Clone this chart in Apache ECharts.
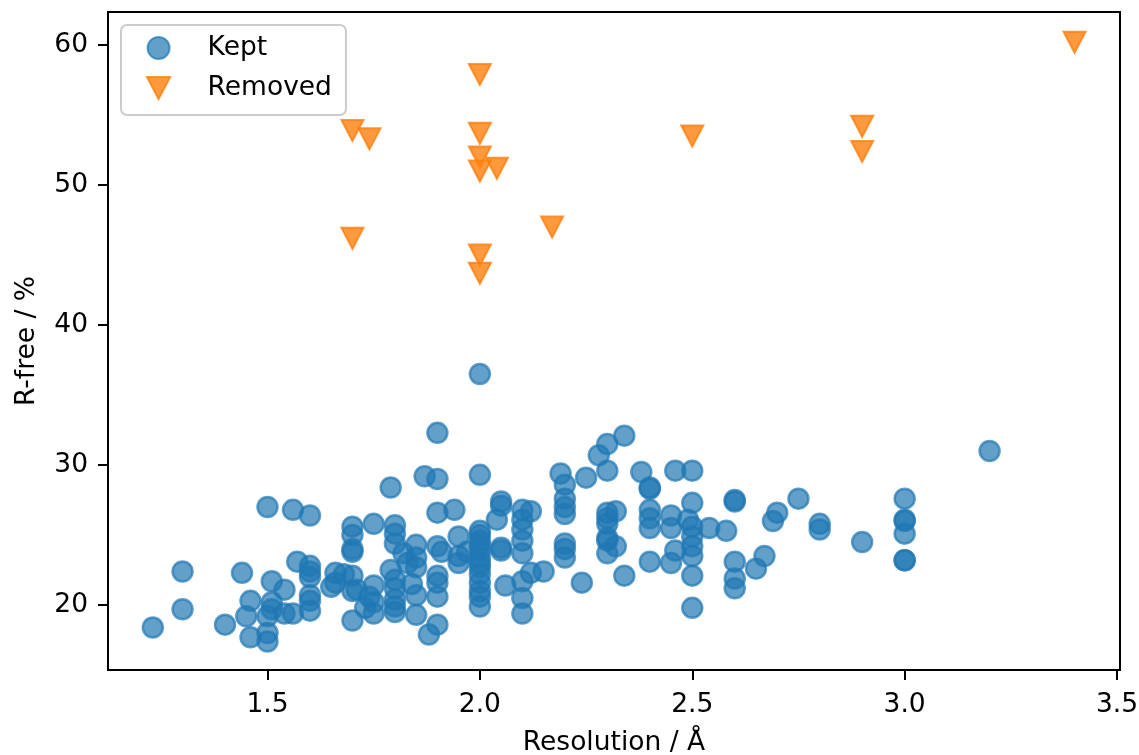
<!DOCTYPE html>
<html>
<head>
<meta charset="utf-8">
<script src="https://cdn.jsdelivr.net/npm/echarts@6/dist/echarts.min.js"></script>
<style>
html,body{margin:0;padding:0;background:#fff;}
#chart{width:1139px;height:755px;}
</style>
</head>
<body>
<div id="chart"></div>
<script>
// ---- data ----
var keptRes = [
1.23,1.30,1.30,1.40,1.44,1.45,1.46,1.46,1.50,1.50,1.50,1.50,1.51,1.51,1.51,1.54,1.54,1.56,1.56,1.57,
1.60,1.60,1.60,1.60,1.60,1.60,1.60,1.65,1.66,1.66,1.68,1.70,1.70,1.70,1.70,1.70,1.70,1.70,1.71,1.73,
1.74,1.75,1.75,1.75,1.75,1.79,1.79,1.80,1.80,1.80,1.80,1.80,1.80,1.80,1.80,1.82,1.83,1.84,1.85,1.85,
1.85,1.85,1.85,1.87,1.88,1.90,1.90,1.90,1.90,1.90,1.90,1.90,1.90,1.91,1.94,1.95,1.95,1.95,1.97,2.00,
2.00,2.00,2.00,2.00,2.00,2.00,2.00,2.00,2.00,2.00,2.00,2.00,2.00,2.00,2.04,2.05,2.05,2.05,2.05,2.06,
2.10,2.10,2.10,2.10,2.10,2.10,2.10,2.10,2.12,2.12,2.15,2.19,2.20,2.20,2.20,2.20,2.20,2.20,2.20,2.24,
2.25,2.28,2.30,2.30,2.30,2.30,2.30,2.30,2.30,2.30,2.32,2.32,2.34,2.34,2.38,2.40,2.40,2.40,2.40,2.40,
2.40,2.45,2.45,2.45,2.46,2.46,2.49,2.50,2.50,2.50,2.50,2.50,2.50,2.50,2.50,2.54,2.58,2.60,2.60,2.60,
2.60,2.60,2.65,2.67,2.69,2.70,2.75,2.80,2.80,2.90,3.00,3.00,3.00,3.00,3.00,3.00,3.20
];
var keptRfree = [
18.4,22.4,19.7,18.6,22.3,19.2,20.3,17.7,27.0,19.2,18.0,17.4,21.7,20.2,19.7,21.1,19.4,19.4,26.8,23.1,
26.4,22.8,22.4,22.0,20.7,20.3,19.6,21.3,22.3,21.6,22.2,25.6,25.0,24.0,23.8,22.1,21.0,18.9,21.1,19.8,
20.6,25.8,21.4,20.2,19.4,28.4,22.5,25.7,25.1,24.4,21.8,21.2,20.4,19.9,19.5,23.7,23.0,21.5,24.3,23.4,
22.7,20.7,19.3,29.2,17.9,32.3,29.0,26.6,24.2,22.1,21.6,20.6,18.6,23.8,26.8,24.9,23.5,23.0,23.8,36.5,
29.3,25.3,25.0,24.6,24.3,23.9,23.4,23.0,22.7,22.2,21.6,21.0,20.6,19.9,26.1,27.4,27.1,24.1,23.9,21.4,
26.8,26.1,25.4,24.6,23.7,21.7,20.5,19.4,26.7,22.3,22.4,29.4,28.6,27.6,27.0,26.5,24.4,24.0,23.4,21.6,
29.1,30.7,31.5,29.6,26.6,26.2,25.8,24.8,24.6,23.7,26.7,24.2,32.1,22.1,29.5,28.4,28.3,26.8,26.2,25.5,
23.1,26.4,25.5,23.0,29.6,23.9,26.1,29.6,27.3,25.6,24.9,24.2,23.5,22.1,19.8,25.5,25.3,27.5,27.4,23.1,
21.9,21.2,22.6,23.5,26.0,26.6,27.6,25.8,25.4,24.5,27.6,26.1,26.0,25.1,23.2,23.2,31.0
];
var removedRes = [1.70,1.74,1.70,2.00,2.00,2.00,2.00,2.04,2.00,2.00,2.17,2.50,2.90,2.90,3.40];
var removedRfree = [53.9,53.3,46.2,57.9,53.7,52.0,51.0,51.2,45.0,43.7,47.0,53.5,54.2,52.4,60.2];
var xTicks = [1.5, 2.0, 2.5, 3.0, 3.5];
var yTicks = [20, 30, 40, 50, 60];
var xTitle = 'Resolution / Å';
var yTitle = 'R-free / %';
var seriesNames = ['Kept', 'Removed'];

function zip(a, b) { return a.map(function (v, i) { return [v, b[i]]; }); }

var FONT = 'DejaVu Sans';
var FS = 26.5;
var DOWN_TRI = 'path://M0,0 L20,0 L10,19 Z';
var chart = echarts.init(document.getElementById('chart'), null, {renderer: 'canvas'});
chart.setOption({
  animation: false,
  backgroundColor: '#ffffff',
  grid: {left: 108, top: 12, right: 19, bottom: 85, containLabel: false, outerBoundsMode: 'none',
    show: true, borderColor: '#000', borderWidth: 2, backgroundColor: 'transparent'},
  legend: {
    orient: 'vertical', left: 121, top: 25,
    padding: [8, 14, 12, 25],
    itemGap: 10, itemWidth: 24, itemHeight: 22,
    backgroundColor: 'rgba(255,255,255,0.8)',
    borderColor: '#cccccc', borderWidth: 2, borderRadius: 6,
    textStyle: {fontFamily: FONT, fontSize: FS, color: '#000', lineHeight: 30, padding: [0, 0, 0, 32]},
    data: [{name: seriesNames[0], icon: 'circle'}, {name: seriesNames[1], icon: DOWN_TRI}]
  },
  xAxis: {
    type: 'value', min: 1.1245, max: 3.507,
    name: xTitle, nameLocation: 'middle', nameGap: 60,
    nameTextStyle: {fontFamily: FONT, fontSize: FS, color: '#000'},
    axisLine: {show: true, lineStyle: {color: '#000', width: 2}},
    axisTick: {show: true, length: 10, lineStyle: {color: '#000', width: 2}, customValues: xTicks},
    axisLabel: {fontFamily: FONT, fontSize: FS, color: '#000', margin: 22, customValues: xTicks,
      formatter: function (v) { return v.toFixed(1); }},
    splitLine: {show: false}
  },
  yAxis: {
    type: 'value', min: 15.36, max: 62.36,
    name: yTitle, nameLocation: 'middle', nameGap: 67, nameRotate: 90,
    nameTextStyle: {fontFamily: FONT, fontSize: FS, color: '#000'},
    axisLine: {show: true, lineStyle: {color: '#000', width: 2}},
    axisTick: {show: true, length: 10, lineStyle: {color: '#000', width: 2}, customValues: yTicks},
    axisLabel: {fontFamily: FONT, fontSize: FS, color: '#000', margin: 20, customValues: yTicks,
      formatter: function (v) { return String(Math.round(v)); }},
    splitLine: {show: false}
  },
  series: [
    {
      name: seriesNames[0], type: 'scatter',
      data: zip(keptRes, keptRfree),
      symbol: 'circle', symbolSize: 20,
      itemStyle: {color: 'rgba(31,119,180,0.7)', borderColor: 'rgba(31,119,180,0.7)', borderWidth: 2.5, opacity: 1},
      emphasis: {disabled: true}
    },
    {
      name: seriesNames[1], type: 'scatter',
      data: zip(removedRes, removedRfree),
      symbol: 'triangle', symbolRotate: 180, symbolSize: [22, 21],
      itemStyle: {color: 'rgba(255,127,14,0.8)', borderColor: 'rgba(255,127,14,0.8)', borderWidth: 2, opacity: 1},
      emphasis: {disabled: true}
    }
  ]
});
</script>
</body>
</html>
